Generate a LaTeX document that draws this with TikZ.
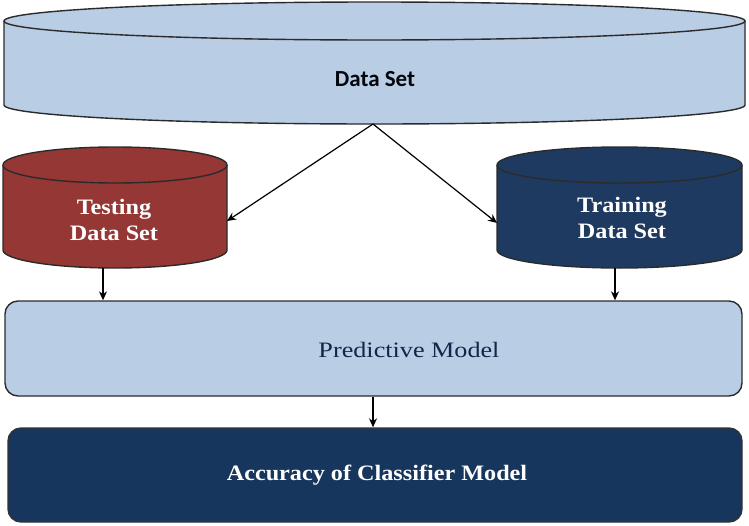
\documentclass[tikz,border=0pt]{standalone}
\usepackage{fontspec}
\setmainfont{Liberation Serif}
\newfontfamily\carl{Carlito}
\newfontfamily\wideA[FakeStretch=1.1]{Liberation Serif}
\newfontfamily\wideB[FakeStretch=1.19]{Liberation Serif}
\usetikzlibrary{arrows.meta}
\definecolor{lightblue}{HTML}{B9CDE5}
\definecolor{darkred}{HTML}{953735}
\definecolor{navyA}{HTML}{1F3A60}
\definecolor{navyB}{HTML}{17365D}
\definecolor{navyT}{HTML}{13264A}
\definecolor{edge}{HTML}{2B2B2B}
\tikzset{
  cyl/.style={draw=edge, line width=1.4pt},
  box/.style={draw=edge, line width=1.4pt, rounded corners=13pt, inner sep=0pt},
  conn/.style={line width=1.2pt, -{Stealth[length=9pt,width=8pt]}},
  whitetxt/.style={text=white, font=\wideA\fontsize{22}{26}\selectfont\bfseries, align=center},
}
\begin{document}
\begin{tikzpicture}[x=1pt,y=-1pt]
\useasboundingbox (0,0) rectangle (749,525);
% Data set cylinder
\fill[lightblue] (4,21) -- (4,105) arc[start angle=180,end angle=360,x radius=370.5,y radius=-19] -- (745,21) -- cycle;
\draw[cyl] (4,21) -- (4,105) arc[start angle=180,end angle=360,x radius=370.5,y radius=-19] -- (745,21);
\draw[cyl, fill=lightblue] (374.5,21) ellipse[x radius=370.5,y radius=19];
\node[font=\carl\bfseries\fontsize{23}{26}\selectfont, text=black!90!navyB] (ds) at (375,79) {Data Set};
\coordinate (dsb) at (373,124);
% Testing cylinder
\draw[cyl, fill=darkred] (3,165) -- (3,250) arc[start angle=180,end angle=360,x radius=112,y radius=-18] -- (227,165);
\draw[cyl, fill=darkred] (115,165) ellipse[x radius=112,y radius=18];
\node[whitetxt] (tst) at (114,220) {Testing\\Data Set};
\coordinate (tstR) at (227,221);
\coordinate (tstB) at (103,268);
% Training cylinder
\draw[cyl, fill=navyA] (497,165) -- (497,250) arc[start angle=180,end angle=360,x radius=122.5,y radius=-18] -- (742,165);
\draw[cyl, fill=navyA] (619.5,165) ellipse[x radius=122.5,y radius=18];
\node[whitetxt] (trn) at (622,218) {Training\\Data Set};
\coordinate (trnL) at (497,223);
\coordinate (trnB) at (615,268);
% Predictive model box
\node[box, fill=lightblue, minimum width=737pt, minimum height=95pt] (pm) at (373.5,348.5) {};
\node[font=\wideB\fontsize{22}{24}\selectfont, text=navyT] (pmt) at (409,350) {Predictive Model};
% Accuracy box
\node[box, fill=navyB, draw=black!80, minimum width=734pt, minimum height=94pt] (acc) at (375,475) {};
\node[whitetxt] (acct) at (377,475) {Accuracy of Classifier Model};
% connectors
\draw[conn] (dsb) -- (tstR);
\draw[conn] (dsb) -- (trnL);
\draw[conn] (tstB) -- (tstB |- pm.north);
\draw[conn] (trnB) -- (trnB |- pm.north);
\draw[conn] (pm.south -| dsb) -- (dsb |- acc.north);
\end{tikzpicture}
\end{document}
